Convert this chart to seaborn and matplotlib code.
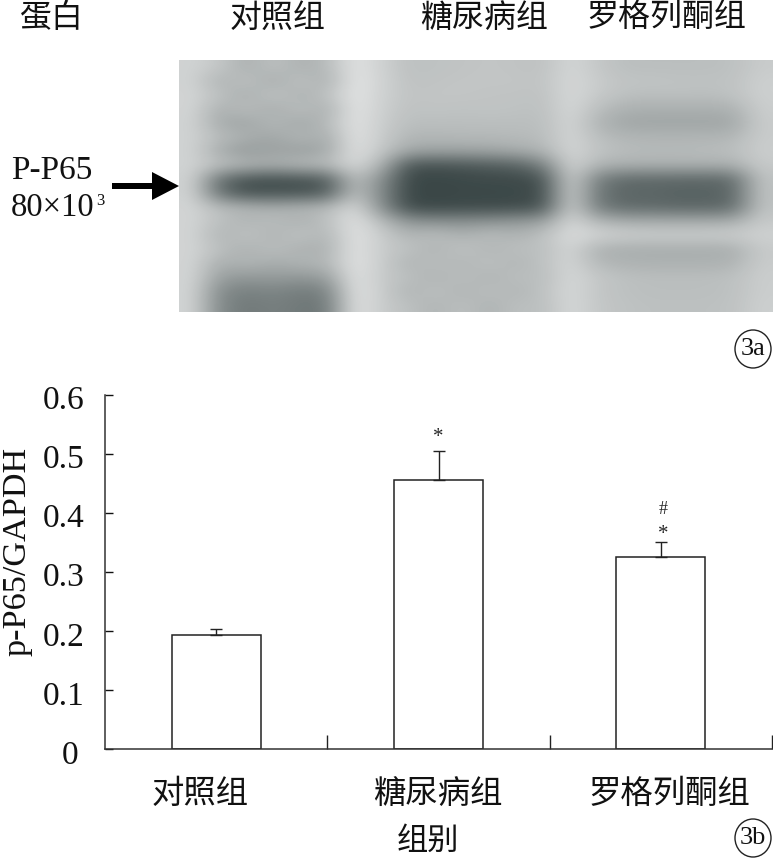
import numpy as np
import pandas as pd
import seaborn as sns
import matplotlib.pyplot as plt
from matplotlib.patches import Ellipse
from matplotlib.colors import LinearSegmentedColormap
from matplotlib.transforms import ScaledTranslation

groups = ["对照组", "糖尿病组", "罗格列酮组"]
ratio = [0.193, 0.455, 0.325]
ratio_err = [0.010, 0.050, 0.026]
y_ticks = [0, 0.1, 0.2, 0.3, 0.4, 0.5, 0.6]
y_tick_labels = ["0", "0.1", "0.2", "0.3", "0.4", "0.5", "0.6"]

# grey levels of the blot, read by eye on a coarse grid (rows top to bottom)
blot_grey = np.array([
    [208, 196, 170, 190, 172, 182, 226, 206, 188, 190, 192, 194, 192, 190, 212, 196, 186, 186, 186, 186, 188, 200],
    [208, 172, 192, 166, 192, 170, 228, 208, 190, 192, 194, 194, 194, 192, 214, 200, 192, 192, 190, 190, 190, 204],
    [210, 190, 168, 194, 172, 190, 228, 206, 192, 194, 194, 192, 192, 190, 214, 198, 188, 186, 188, 186, 190, 204],
    [210, 170, 188, 166, 190, 168, 228, 204, 190, 192, 190, 192, 190, 188, 214, 186, 172, 170, 170, 170, 172, 202],
    [208, 166, 158, 182, 160, 182, 226, 202, 186, 186, 186, 186, 186, 186, 212, 176, 160, 160, 160, 160, 160, 200],
    [208, 184, 172, 160, 180, 166, 226, 200, 178, 178, 180, 180, 182, 184, 212, 186, 178, 176, 176, 176, 178, 200],
    [208, 166, 146, 158, 152, 162, 224, 196, 162, 158, 158, 160, 166, 176, 212, 192, 184, 182, 182, 184, 186, 202],
    [208, 190, 180, 172, 184, 186, 216, 176, 74, 72, 76, 82, 88, 120, 212, 176, 172, 172, 172, 172, 172, 198],
    [208, 104, 72, 68, 72, 82, 190, 138, 60, 58, 60, 62, 62, 70, 210, 120, 96, 96, 94, 94, 96, 190],
    [208, 104, 68, 72, 70, 82, 190, 132, 60, 58, 60, 60, 60, 66, 210, 112, 92, 92, 88, 88, 92, 190],
    [210, 184, 176, 168, 176, 180, 216, 138, 62, 60, 62, 62, 64, 72, 210, 116, 96, 96, 92, 92, 96, 190],
    [210, 188, 176, 186, 172, 188, 226, 184, 142, 136, 136, 140, 146, 154, 214, 178, 168, 166, 166, 166, 168, 198],
    [210, 174, 192, 174, 192, 176, 226, 202, 176, 188, 172, 186, 174, 190, 218, 210, 204, 202, 202, 202, 204, 206],
    [210, 188, 172, 188, 172, 172, 226, 200, 190, 174, 192, 176, 188, 186, 212, 172, 168, 168, 168, 168, 168, 198],
    [210, 168, 178, 166, 176, 178, 226, 202, 174, 188, 176, 190, 176, 190, 212, 180, 174, 172, 172, 172, 174, 200],
    [210, 154, 146, 150, 146, 152, 226, 198, 188, 174, 188, 174, 188, 184, 214, 196, 188, 186, 186, 186, 188, 202],
    [210, 132, 120, 126, 116, 122, 226, 202, 174, 190, 174, 188, 176, 190, 214, 194, 188, 186, 186, 186, 188, 202],
    [210, 130, 112, 120, 112, 112, 226, 200, 188, 176, 188, 174, 188, 186, 214, 196, 190, 188, 188, 188, 190, 204],
])

sns.set_theme(style="ticks")
plt.rcParams['font.family'] = ['Liberation Serif', 'Noto Sans CJK SC']
W, H = 773, 858
cjk = ['Noto Sans CJK SC', 'Liberation Serif']

fig = plt.figure(figsize=(W / 100, H / 100), dpi=100, facecolor="white")

# blot panel, slightly green in the dark bands
blot_cmap = LinearSegmentedColormap.from_list("blot", ["#001010", "#ffffff"])
ax_blot = fig.add_axes([179 / W, 1 - 312 / H, (W - 179) / W, 252 / H])
ax_blot.imshow(blot_grey, cmap=blot_cmap, vmin=0, vmax=255, aspect="auto", interpolation="bicubic")
ax_blot.axis("off")

# bar panel
ax = fig.add_axes([105 / W, 1 - 749 / H, 667 / W, 354.5 / H])
df = pd.DataFrame({"group": groups, "ratio": ratio})
sns.barplot(data=df, x="group", y="ratio", color="white", edgecolor="#222222",
            linewidth=1.1, width=0.4, saturation=1, ax=ax)
ax.errorbar(range(3), ratio, yerr=[[0] * 3, ratio_err], fmt="none", ecolor="#222222",
            elinewidth=1, capsize=4, capthick=1)
ax.set_xlim(-0.5, 2.5)
ax.set_ylim(0, 0.6)
ax.set_yticks(y_ticks)
ax.set_yticklabels(y_tick_labels, fontsize=24)
ax.set_xticks([-0.073, 0.997, 2.04])
ax.set_xticklabels(groups, fontsize=23.3, family=cjk)
ax.set_xticks([0.5, 1.5, 2.5], minor=True)
ax.tick_params(axis="x", which="major", length=0, pad=21, colors="#111111")
ax.tick_params(axis="x", which="minor", direction="in", length=10, width=1, color="#222222")
ax.tick_params(axis="y", direction="in", length=6, width=1, pad=15, colors="#111111")
ax.set_xlabel("")
ax.set_ylabel("p-P65/GAPDH", fontsize=24.6, color="#111111")
ax.yaxis.set_label_coords(-0.108, 0.558)
for side in ["top", "right"]:
    ax.spines[side].set_visible(False)
for side in ["left", "bottom"]:
    ax.spines[side].set_linewidth(1.1)
    ax.spines[side].set_color("#333333")

# tick labels sit a little below their ticks, the 0 further left
for i, label in enumerate(ax.get_yticklabels()):
    dx = -6 if i == 0 else 0
    label.set_transform(label.get_transform() + ScaledTranslation(dx / 100, -3 / 100, fig.dpi_scale_trans))

# significance marks
ax.text(1.0, 0.528, "*", ha="center", va="center", fontsize=15)
ax.text(2.01, 0.405, "#", ha="center", va="center", fontsize=13)
ax.text(2.01, 0.363, "*", ha="center", va="center", fontsize=15)

# overlay in pixel coordinates for the loose labels
over = fig.add_axes([0, 0, 1, 1])
over.set_xlim(0, W)
over.set_ylim(H, 0)
over.axis("off")
over.patch.set_alpha(0)

top_labels = ["蛋白", "对照组", "糖尿病组", "罗格列酮组"]
for label, x in zip(top_labels, [52, 278, 484, 667]):
    over.text(x, 18, label, ha="center", va="center", fontsize=23, family=cjk, color="#111111")
over.text(428, 841, "组别", ha="center", va="center", fontsize=22.5, family=cjk, color="#111111")

over.text(11, 171, "P-P65", ha="left", va="center", fontsize=24, color="#111111")
over.text(11, 208, "80×10", ha="left", va="center", fontsize=23.5, color="#111111")
over.text(96, 201, "3", ha="left", va="center", fontsize=12, color="#111111")
over.arrow(112, 186, 67, 0, width=6, head_width=28, head_length=27,
           length_includes_head=True, color="black", lw=0)

for tag, y in [("3a", 349), ("3b", 838)]:
    over.text(753, y, tag, ha="center", va="center", fontsize=19, color="#111111")
    over.add_patch(Ellipse((753, y), 36, 38, fill=False, edgecolor="#222222", lw=1))

fig.savefig("out.png", dpi=100)
